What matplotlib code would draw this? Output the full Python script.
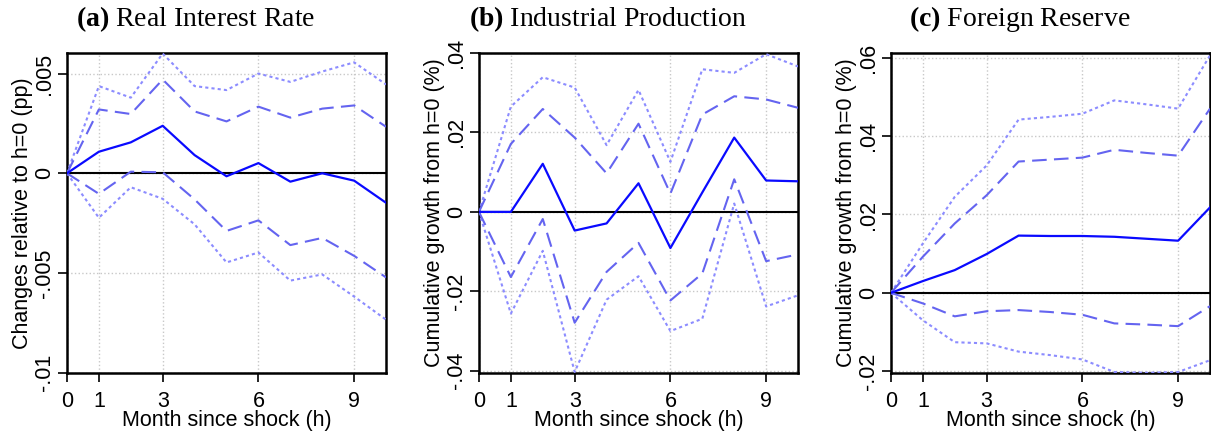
import numpy as np
import matplotlib.pyplot as plt

# --- DADES --- #
h = [0, 1, 2, 3, 4, 5, 6, 7, 8, 9, 10]

# (a) Real interest rate
a_est = [0, 0.00108, 0.00155, 0.00238, 0.00091, -0.00015, 0.00051, -0.00042, 0.0, -0.00037, -0.00148]
a_hi90 = [0, 0.0032, 0.00297, 0.0047, 0.0031, 0.0026, 0.00334, 0.00279, 0.00324, 0.0034, 0.00233]
a_lo90 = [0, -0.00103, 0.00008, 0.00005, -0.00131, -0.00289, -0.00236, -0.0036, -0.00324, -0.00414, -0.00522]
a_hi95 = [0, 0.00437, 0.00379, 0.006, 0.00437, 0.00417, 0.005, 0.00458, 0.0051, 0.00556, 0.00445]
a_lo95 = [0, -0.00223, -0.0007, -0.00128, -0.00256, -0.00447, -0.00397, -0.00538, -0.00507, -0.00618, -0.00734]

# (b) Industrial production
b_est = [0, 0.0, 0.0121, -0.0047, -0.0029, 0.0072, -0.0091, 0.0049, 0.0187, 0.0079, 0.0077]
b_hi90 = [0, 0.0171, 0.0259, 0.0187, 0.0097, 0.0222, 0.0046, 0.0245, 0.0291, 0.0283, 0.0262]
b_lo90 = [0, -0.0164, -0.0018, -0.0279, -0.0151, -0.0078, -0.0223, -0.0155, 0.0082, -0.0124, -0.0107]
b_hi95 = [0, 0.0265, 0.0339, 0.0313, 0.0168, 0.0307, 0.0126, 0.0359, 0.035, 0.0397, 0.0366]
b_lo95 = [0, -0.0256, -0.0098, -0.0403, -0.0221, -0.0162, -0.030, -0.0269, 0.0021, -0.0238, -0.021]

# (c) Foreign reserve
c_est = [0, 0.003, 0.0058, 0.0099, 0.0146, 0.0145, 0.0145, 0.0143, 0.0138, 0.0133, 0.0218]
c_hi90 = [0, 0.0092, 0.0177, 0.0249, 0.0335, 0.034, 0.0345, 0.0365, 0.0357, 0.035, 0.047]
c_lo90 = [0, -0.0027, -0.006, -0.0047, -0.0044, -0.0049, -0.0056, -0.0078, -0.0081, -0.0085, -0.0034]
c_hi95 = [0, 0.0126, 0.0245, 0.0325, 0.0442, 0.0449, 0.0457, 0.0491, 0.0481, 0.047, 0.0606]
c_lo95 = [0, -0.007, -0.0126, -0.0129, -0.015, -0.0159, -0.017, -0.0202, -0.0204, -0.0202, -0.0172]

xticks = [0, 1, 3, 6, 9]
titles = ['Real Interest Rate', 'Industrial Production', 'Foreign Reserve']
letters = ['a', 'b', 'c']
ylabels = ['Changes relative to h=0 (pp)', 'Cumulative growth from h=0 (%)', 'Cumulative growth from h=0 (%)']
yticks = [[-0.01, -0.005, 0, 0.005], [-0.04, -0.02, 0, 0.02, 0.04], [-0.02, 0, 0.02, 0.04, 0.06]]
yticklabels = [['-.01', '-.005', '0', '.005'], ['-.04', '-.02', '0', '.02', '.04'], ['-.02', '0', '.02', '.04', '.06']]
ylims = [(-0.01, 0.00603), (-0.0405, 0.04), (-0.0204, 0.0612)]

series = [(a_est, a_hi90, a_lo90, a_hi95, a_lo95),
          (b_est, b_hi90, b_lo90, b_hi95, b_lo95),
          (c_est, c_hi90, c_lo90, c_hi95, c_lo95)]

# --- GRÀFICA --- #
plt.rcParams['font.family'] = ['Liberation Sans', 'DejaVu Sans']
plt.rcParams['mathtext.fontset'] = 'custom'
plt.rcParams['mathtext.rm'] = 'Liberation Serif'
plt.rcParams['mathtext.bf'] = 'Liberation Serif:bold'

fig = plt.figure(figsize=(12.11, 4.36), dpi=100)
lefts = [0.0553, 0.3955, 0.7357]
for i in range(3):
    ax = fig.add_axes([lefts[i], 0.145, 0.2635, 0.7335])
    est, hi90, lo90, hi95, lo95 = series[i]
    ax.axhline(0, color='black', lw=1.5, zorder=2)
    ax.plot(h, hi95, color='#8c8cff', lw=1.5, linestyle=(0, (1.5, 1.5)), zorder=3)
    ax.plot(h, lo95, color='#8c8cff', lw=1.5, linestyle=(0, (1.5, 1.5)), zorder=3)
    ax.plot(h, hi90, color='#6464f0', lw=1.5, linestyle=(0, (7, 3.5)), zorder=3)
    ax.plot(h, lo90, color='#6464f0', lw=1.5, linestyle=(0, (7, 3.5)), zorder=3)
    ax.plot(h, est, color='#0a0aff', lw=1.6, zorder=4)

    ax.set_xlim(0, 10)
    ax.set_ylim(*ylims[i])
    ax.set_xticks(xticks)
    ax.set_yticks(yticks[i])
    ax.set_yticklabels(yticklabels[i], rotation=90, va='center')
    ax.tick_params(axis='both', labelsize=15.5, length=6.5, width=1.2, direction='out')
    ax.tick_params(axis='x', pad=6.5)
    ax.tick_params(axis='y', pad=2)
    ax.grid(True, color='#c8c8c8', linestyle=':', lw=1)
    for s in ax.spines.values():
        s.set_linewidth(1.8)
    ax.set_xlabel('Month since shock (h)', fontsize=15.5, labelpad=-1)
    ax.set_ylabel(ylabels[i], fontsize=15.5, labelpad=1)
    ax.text(0.403, 1.084, r'$\mathbf{(' + letters[i] + ')}$ ' + titles[i],
            transform=ax.transAxes, ha='center', va='baseline', fontsize=20, family='Liberation Serif')

plt.savefig('out.png', dpi=100)
